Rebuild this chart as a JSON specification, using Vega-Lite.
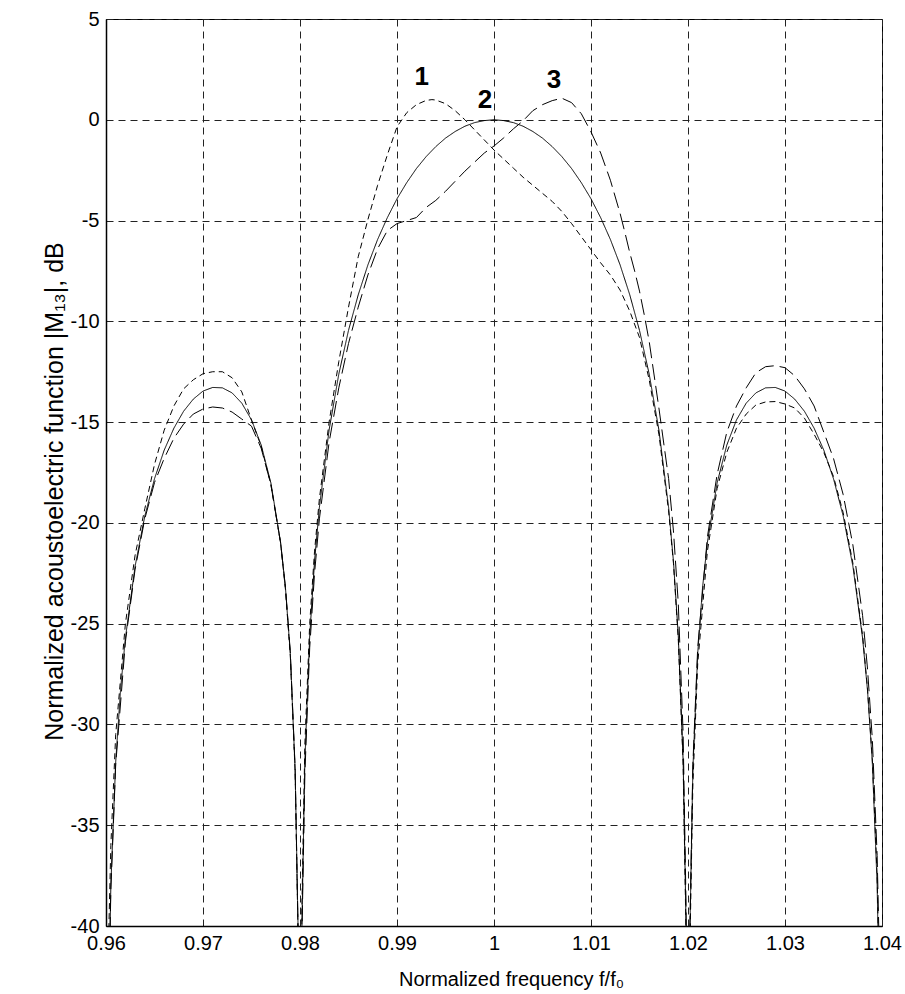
{
  "$schema": "https://vega.github.io/schema/vega-lite/v6.json",
  "width": 776,
  "height": 907,
  "autosize": "none",
  "padding": {"left": 106, "top": 19, "right": 23, "bottom": 68},
  "background": "white",
  "config": {
    "font": "Liberation Sans",
    "view": {"stroke": "black", "strokeWidth": 1},
    "axis": {
      "labelFont": "Liberation Sans",
      "titleFont": "Liberation Sans",
      "labelFontSize": 20,
      "titleFontSize": 20,
      "labelColor": "black",
      "titleColor": "black",
      "titleFontWeight": "normal",
      "domainColor": "black",
      "domainWidth": 1.5,
      "ticks": false,
      "labelFlush": false,
      "labelOverlap": false,
      "grid": true,
      "gridColor": "#222",
      "gridDash": [7, 5],
      "gridWidth": 1,
      "gridOpacity": 1
    }
  },
  "datasets": {
    "curves": [
      {"f":0.96,"db":-60,"c":"2"},{"f":0.9602,"db":-45.98,"c":"2"},{"f":0.9605,"db":-37.96,"c":"2"},{"f":0.961,"db":-31.86,"c":"2"},{"f":0.9615,"db":-28.27,"c":"2"},{"f":0.962,"db":-25.72,"c":"2"},{"f":0.963,"db":-22.15,"c":"2"},{"f":0.964,"db":-19.66,"c":"2"},{"f":0.965,"db":-17.81,"c":"2"},{"f":0.966,"db":-16.39,"c":"2"},{"f":0.967,"db":-15.3,"c":"2"},{"f":0.968,"db":-14.46,"c":"2"},{"f":0.969,"db":-13.86,"c":"2"},{"f":0.97,"db":-13.46,"c":"2"},{"f":0.971,"db":-13.28,"c":"2"},{"f":0.972,"db":-13.3,"c":"2"},{"f":0.973,"db":-13.55,"c":"2"},{"f":0.974,"db":-14.06,"c":"2"},{"f":0.975,"db":-14.89,"c":"2"},{"f":0.976,"db":-16.14,"c":"2"},{"f":0.977,"db":-18.02,"c":"2"},{"f":0.978,"db":-20.97,"c":"2"},{"f":0.9785,"db":-23.21,"c":"2"},{"f":0.979,"db":-26.48,"c":"2"},{"f":0.9795,"db":-32.26,"c":"2"},{"f":0.9798,"db":-40.09,"c":"2"},{"f":0.98,"db":-60,"c":"2"},
      {"f":0.9802,"db":-39.91,"c":"2"},{"f":0.9805,"db":-31.83,"c":"2"},{"f":0.981,"db":-25.61,"c":"2"},{"f":0.9815,"db":-21.9,"c":"2"},{"f":0.982,"db":-19.23,"c":"2"},{"f":0.983,"db":-15.39,"c":"2"},{"f":0.984,"db":-12.62,"c":"2"},{"f":0.985,"db":-10.45,"c":"2"},{"f":0.986,"db":-8.69,"c":"2"},{"f":0.987,"db":-7.2,"c":"2"},{"f":0.988,"db":-5.94,"c":"2"},{"f":0.989,"db":-4.86,"c":"2"},{"f":0.99,"db":-3.92,"c":"2"},{"f":0.991,"db":-3.12,"c":"2"},{"f":0.992,"db":-2.42,"c":"2"},{"f":0.993,"db":-1.83,"c":"2"},{"f":0.994,"db":-1.33,"c":"2"},{"f":0.995,"db":-0.91,"c":"2"},{"f":0.996,"db":-0.58,"c":"2"},{"f":0.997,"db":-0.32,"c":"2"},{"f":0.998,"db":-0.14,"c":"2"},{"f":0.999,"db":-0.04,"c":"2"},{"f":1.0,"db":0,"c":"2"},{"f":1.001,"db":-0.04,"c":"2"},{"f":1.002,"db":-0.14,"c":"2"},{"f":1.003,"db":-0.32,"c":"2"},{"f":1.004,"db":-0.58,"c":"2"},{"f":1.005,"db":-0.91,"c":"2"},{"f":1.006,"db":-1.33,"c":"2"},{"f":1.007,"db":-1.83,"c":"2"},{"f":1.008,"db":-2.42,"c":"2"},{"f":1.009,"db":-3.12,"c":"2"},{"f":1.01,"db":-3.92,"c":"2"},{"f":1.011,"db":-4.86,"c":"2"},{"f":1.012,"db":-5.94,"c":"2"},{"f":1.013,"db":-7.2,"c":"2"},{"f":1.014,"db":-8.69,"c":"2"},{"f":1.015,"db":-10.45,"c":"2"},{"f":1.016,"db":-12.62,"c":"2"},{"f":1.017,"db":-15.39,"c":"2"},{"f":1.018,"db":-19.23,"c":"2"},{"f":1.0185,"db":-21.9,"c":"2"},{"f":1.019,"db":-25.61,"c":"2"},{"f":1.0195,"db":-31.83,"c":"2"},{"f":1.0198,"db":-39.91,"c":"2"},{"f":1.02,"db":-60,"c":"2"},
      {"f":1.0202,"db":-40.09,"c":"2"},{"f":1.0205,"db":-32.26,"c":"2"},{"f":1.021,"db":-26.48,"c":"2"},{"f":1.0215,"db":-23.21,"c":"2"},{"f":1.022,"db":-20.97,"c":"2"},{"f":1.023,"db":-18.02,"c":"2"},{"f":1.024,"db":-16.14,"c":"2"},{"f":1.025,"db":-14.89,"c":"2"},{"f":1.026,"db":-14.06,"c":"2"},{"f":1.027,"db":-13.55,"c":"2"},{"f":1.028,"db":-13.3,"c":"2"},{"f":1.029,"db":-13.28,"c":"2"},{"f":1.03,"db":-13.46,"c":"2"},{"f":1.031,"db":-13.86,"c":"2"},{"f":1.032,"db":-14.46,"c":"2"},{"f":1.033,"db":-15.3,"c":"2"},{"f":1.034,"db":-16.39,"c":"2"},{"f":1.035,"db":-17.81,"c":"2"},{"f":1.036,"db":-19.66,"c":"2"},{"f":1.037,"db":-22.15,"c":"2"},{"f":1.038,"db":-25.72,"c":"2"},{"f":1.0385,"db":-28.27,"c":"2"},{"f":1.039,"db":-31.86,"c":"2"},{"f":1.0395,"db":-37.96,"c":"2"},{"f":1.0398,"db":-45.98,"c":"2"},{"f":1.04,"db":-60,"c":"2"},

      {"f":0.96,"db":-60,"c":"1"},{"f":0.9602,"db":-42,"c":"1"},{"f":0.9605,"db":-36,"c":"1"},{"f":0.961,"db":-30.5,"c":"1"},{"f":0.962,"db":-25,"c":"1"},{"f":0.963,"db":-21.6,"c":"1"},{"f":0.964,"db":-19.3,"c":"1"},{"f":0.965,"db":-17.1,"c":"1"},{"f":0.966,"db":-15.4,"c":"1"},{"f":0.967,"db":-14.2,"c":"1"},{"f":0.968,"db":-13.35,"c":"1"},{"f":0.969,"db":-12.9,"c":"1"},{"f":0.97,"db":-12.6,"c":"1"},{"f":0.971,"db":-12.5,"c":"1"},{"f":0.972,"db":-12.5,"c":"1"},{"f":0.973,"db":-12.8,"c":"1"},{"f":0.974,"db":-13.5,"c":"1"},{"f":0.975,"db":-14.9,"c":"1"},{"f":0.976,"db":-16.2,"c":"1"},{"f":0.977,"db":-18.1,"c":"1"},{"f":0.978,"db":-21,"c":"1"},{"f":0.9785,"db":-23.3,"c":"1"},{"f":0.979,"db":-26.6,"c":"1"},{"f":0.9795,"db":-32.4,"c":"1"},{"f":0.9798,"db":-40.5,"c":"1"},{"f":0.98,"db":-60,"c":"1"},
      {"f":0.9802,"db":-39,"c":"1"},{"f":0.9805,"db":-31,"c":"1"},{"f":0.981,"db":-25,"c":"1"},{"f":0.9815,"db":-21.4,"c":"1"},{"f":0.982,"db":-18.8,"c":"1"},{"f":0.983,"db":-15,"c":"1"},{"f":0.984,"db":-12,"c":"1"},{"f":0.985,"db":-9.3,"c":"1"},{"f":0.986,"db":-6.8,"c":"1"},{"f":0.987,"db":-4.95,"c":"1"},{"f":0.988,"db":-3.25,"c":"1"},{"f":0.989,"db":-1.75,"c":"1"},{"f":0.99,"db":-0.35,"c":"1"},{"f":0.991,"db":0.35,"c":"1"},{"f":0.992,"db":0.75,"c":"1"},{"f":0.993,"db":0.96,"c":"1"},{"f":0.9936,"db":1.0,"c":"1"},{"f":0.994,"db":0.98,"c":"1"},{"f":0.995,"db":0.8,"c":"1"},{"f":0.996,"db":0.45,"c":"1"},{"f":0.997,"db":0.0,"c":"1"},{"f":0.998,"db":-0.5,"c":"1"},{"f":0.999,"db":-1.0,"c":"1"},{"f":1.0,"db":-1.5,"c":"1"},{"f":1.001,"db":-1.95,"c":"1"},{"f":1.002,"db":-2.4,"c":"1"},{"f":1.003,"db":-2.85,"c":"1"},{"f":1.004,"db":-3.25,"c":"1"},{"f":1.005,"db":-3.65,"c":"1"},{"f":1.006,"db":-4.05,"c":"1"},{"f":1.007,"db":-4.55,"c":"1"},{"f":1.008,"db":-5.15,"c":"1"},{"f":1.009,"db":-5.8,"c":"1"},{"f":1.01,"db":-6.45,"c":"1"},{"f":1.011,"db":-7.1,"c":"1"},{"f":1.012,"db":-7.7,"c":"1"},{"f":1.013,"db":-8.45,"c":"1"},{"f":1.014,"db":-9.5,"c":"1"},{"f":1.015,"db":-10.8,"c":"1"},{"f":1.016,"db":-12.9,"c":"1"},{"f":1.017,"db":-15.6,"c":"1"},{"f":1.018,"db":-19.4,"c":"1"},{"f":1.0185,"db":-22,"c":"1"},{"f":1.019,"db":-25.8,"c":"1"},{"f":1.0195,"db":-32,"c":"1"},{"f":1.0198,"db":-40.5,"c":"1"},{"f":1.02,"db":-60,"c":"1"},
      {"f":1.0202,"db":-41,"c":"1"},{"f":1.0205,"db":-33,"c":"1"},{"f":1.021,"db":-27,"c":"1"},{"f":1.022,"db":-21.4,"c":"1"},{"f":1.023,"db":-18.3,"c":"1"},{"f":1.024,"db":-16.5,"c":"1"},{"f":1.025,"db":-15.3,"c":"1"},{"f":1.026,"db":-14.6,"c":"1"},{"f":1.027,"db":-14.15,"c":"1"},{"f":1.028,"db":-14.0,"c":"1"},{"f":1.029,"db":-13.98,"c":"1"},{"f":1.03,"db":-14.1,"c":"1"},{"f":1.031,"db":-14.3,"c":"1"},{"f":1.032,"db":-14.8,"c":"1"},{"f":1.033,"db":-15.6,"c":"1"},{"f":1.034,"db":-16.5,"c":"1"},{"f":1.035,"db":-17.7,"c":"1"},{"f":1.036,"db":-19.5,"c":"1"},{"f":1.037,"db":-22,"c":"1"},{"f":1.038,"db":-25.6,"c":"1"},{"f":1.0385,"db":-28.2,"c":"1"},{"f":1.039,"db":-31.7,"c":"1"},{"f":1.0395,"db":-37.5,"c":"1"},{"f":1.0398,"db":-45,"c":"1"},{"f":1.04,"db":-60,"c":"1"},

      {"f":0.96,"db":-60,"c":"3"},{"f":0.9602,"db":-46,"c":"3"},{"f":0.9605,"db":-38.2,"c":"3"},{"f":0.961,"db":-32,"c":"3"},{"f":0.962,"db":-25.9,"c":"3"},{"f":0.963,"db":-22.3,"c":"3"},{"f":0.964,"db":-19.8,"c":"3"},{"f":0.965,"db":-18,"c":"3"},{"f":0.966,"db":-16.8,"c":"3"},{"f":0.967,"db":-15.8,"c":"3"},{"f":0.968,"db":-15.1,"c":"3"},{"f":0.969,"db":-14.6,"c":"3"},{"f":0.97,"db":-14.35,"c":"3"},{"f":0.971,"db":-14.25,"c":"3"},{"f":0.972,"db":-14.3,"c":"3"},{"f":0.973,"db":-14.5,"c":"3"},{"f":0.974,"db":-14.85,"c":"3"},{"f":0.975,"db":-15.2,"c":"3"},{"f":0.976,"db":-16.3,"c":"3"},{"f":0.977,"db":-18.1,"c":"3"},{"f":0.978,"db":-21,"c":"3"},{"f":0.9785,"db":-23.2,"c":"3"},{"f":0.979,"db":-26.4,"c":"3"},{"f":0.9795,"db":-32.2,"c":"3"},{"f":0.9798,"db":-40.2,"c":"3"},{"f":0.98,"db":-60,"c":"3"},
      {"f":0.9802,"db":-40.5,"c":"3"},{"f":0.9805,"db":-32.5,"c":"3"},{"f":0.981,"db":-26.2,"c":"3"},{"f":0.9815,"db":-22.5,"c":"3"},{"f":0.982,"db":-19.8,"c":"3"},{"f":0.983,"db":-16,"c":"3"},{"f":0.984,"db":-13.3,"c":"3"},{"f":0.985,"db":-11.1,"c":"3"},{"f":0.986,"db":-9.3,"c":"3"},{"f":0.987,"db":-7.7,"c":"3"},{"f":0.988,"db":-6.4,"c":"3"},{"f":0.989,"db":-5.5,"c":"3"},{"f":0.99,"db":-5.15,"c":"3"},{"f":0.991,"db":-5.0,"c":"3"},{"f":0.992,"db":-4.85,"c":"3"},{"f":0.993,"db":-4.35,"c":"3"},{"f":0.994,"db":-4.0,"c":"3"},{"f":0.995,"db":-3.55,"c":"3"},{"f":0.996,"db":-3.05,"c":"3"},{"f":0.997,"db":-2.55,"c":"3"},{"f":0.998,"db":-2.1,"c":"3"},{"f":0.999,"db":-1.65,"c":"3"},{"f":1.0,"db":-1.3,"c":"3"},{"f":1.001,"db":-0.9,"c":"3"},{"f":1.002,"db":-0.45,"c":"3"},{"f":1.003,"db":-0.05,"c":"3"},{"f":1.004,"db":0.45,"c":"3"},{"f":1.005,"db":0.75,"c":"3"},{"f":1.006,"db":0.95,"c":"3"},{"f":1.007,"db":1.07,"c":"3"},{"f":1.008,"db":0.85,"c":"3"},{"f":1.009,"db":0.3,"c":"3"},{"f":1.01,"db":-0.6,"c":"3"},{"f":1.011,"db":-1.65,"c":"3"},{"f":1.012,"db":-3.0,"c":"3"},{"f":1.013,"db":-4.65,"c":"3"},{"f":1.0135,"db":-5.6,"c":"3"},{"f":1.014,"db":-6.6,"c":"3"},{"f":1.0145,"db":-7.5,"c":"3"},{"f":1.015,"db":-8.5,"c":"3"},{"f":1.0155,"db":-9.7,"c":"3"},{"f":1.016,"db":-11.0,"c":"3"},{"f":1.017,"db":-14.3,"c":"3"},{"f":1.018,"db":-17.8,"c":"3"},{"f":1.0185,"db":-20.4,"c":"3"},{"f":1.019,"db":-24,"c":"3"},{"f":1.0195,"db":-30.5,"c":"3"},{"f":1.0198,"db":-39,"c":"3"},{"f":1.02,"db":-60,"c":"3"},
      {"f":1.0202,"db":-40,"c":"3"},{"f":1.0205,"db":-32,"c":"3"},{"f":1.021,"db":-26.2,"c":"3"},{"f":1.022,"db":-20.7,"c":"3"},{"f":1.023,"db":-17.6,"c":"3"},{"f":1.024,"db":-15.5,"c":"3"},{"f":1.025,"db":-14.2,"c":"3"},{"f":1.026,"db":-13.3,"c":"3"},{"f":1.027,"db":-12.55,"c":"3"},{"f":1.028,"db":-12.25,"c":"3"},{"f":1.029,"db":-12.2,"c":"3"},{"f":1.03,"db":-12.3,"c":"3"},{"f":1.031,"db":-12.7,"c":"3"},{"f":1.032,"db":-13.35,"c":"3"},{"f":1.033,"db":-14.2,"c":"3"},{"f":1.034,"db":-15.5,"c":"3"},{"f":1.035,"db":-16.8,"c":"3"},{"f":1.036,"db":-18.6,"c":"3"},{"f":1.037,"db":-21.1,"c":"3"},{"f":1.038,"db":-24.6,"c":"3"},{"f":1.0385,"db":-27.2,"c":"3"},{"f":1.039,"db":-30.7,"c":"3"},{"f":1.0395,"db":-36.5,"c":"3"},{"f":1.0398,"db":-43,"c":"3"},{"f":1.04,"db":-60,"c":"3"}
    ],
    "labels": [
      {"f":0.99255,"db":2.14,"label":"1"},
      {"f":0.99907,"db":0.98,"label":"2"},
      {"f":1.00619,"db":1.97,"label":"3"}
    ]
  },
  "layer": [
    {
      "data": {"name": "curves"},
      "mark": {"type": "line", "clip": true, "color": "black", "strokeWidth": 1},
      "encoding": {
        "x": {
          "field": "f", "type": "quantitative",
          "scale": {"domain": [0.96, 1.04], "nice": false, "zero": false},
          "axis": {
            "values": [0.96, 0.97, 0.98, 0.99, 1.0, 1.01, 1.02, 1.03, 1.04],
            "labelExpr": "'' + datum.value",
            "labelPadding": 7,
            "title": "Normalized frequency  f/f₀",
            "titleBaseline": "alphabetic",
            "titleAlign": "center",
            "titleX": 405,
            "titleY": 59
          }
        },
        "y": {
          "field": "db", "type": "quantitative",
          "scale": {"domain": [-40, 5], "nice": false, "zero": false},
          "axis": {
            "values": [-40, -35, -30, -25, -20, -15, -10, -5, 0, 5],
            "labelExpr": "'' + datum.value",
            "labelPadding": 7,
            "title": "Normalized acoustoelectric function |M₁₃|, dB",
            "titleFontSize": 25,
            "titleAngle": -90,
            "titleAlign": "center",
            "titleBaseline": "alphabetic",
            "titleX": -44,
            "titleY": 472
          }
        },
        "detail": {"field": "c"},
        "strokeDash": {
          "field": "c", "type": "nominal",
          "scale": {"domain": ["1", "2", "3"], "range": [[6, 4], [1, 0], [16, 6]]},
          "legend": null
        },
        "order": {"field": "f", "type": "quantitative"}
      }
    },
    {
      "data": {"name": "labels"},
      "mark": {"type": "text", "fontSize": 26, "fontWeight": "bold", "font": "Liberation Sans", "align": "center", "baseline": "middle", "color": "black"},
      "encoding": {
        "x": {"field": "f", "type": "quantitative"},
        "y": {"field": "db", "type": "quantitative"},
        "text": {"field": "label"}
      }
    }
  ]
}
